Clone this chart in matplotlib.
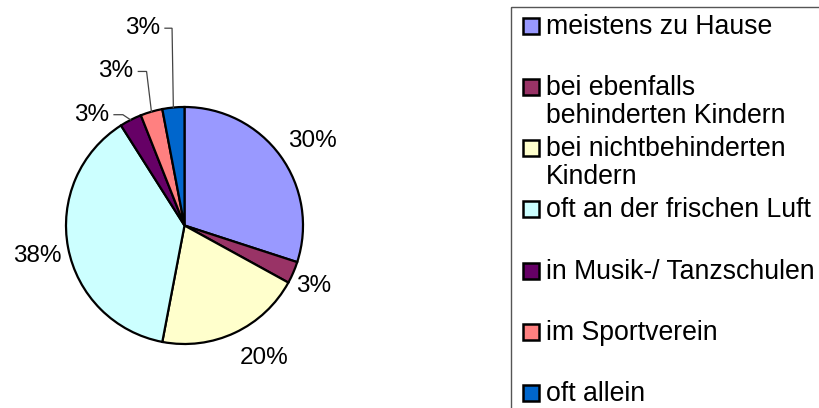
import numpy as np
import matplotlib.pyplot as plt
from matplotlib.patches import Rectangle

plt.rcParams['font.family'] = ['Liberation Sans', 'DejaVu Sans']

# data
categories = ['meistens zu Hause', 'bei ebenfalls\nbehinderten Kindern', 'bei nichtbehinderten\nKindern',
              'oft an der frischen Luft', 'in Musik-/ Tanzschulen', 'im Sportverein', 'oft allein']
values = [30, 3, 20, 38, 3, 3, 3]
colors = ['#9999FF', '#993366', '#FFFFCC', '#CCFFFF', '#660066', '#FF8080', '#0066CC']
pct_labels = [f'{v}%' for v in values]

W, H = 820, 408
fig = plt.figure(figsize=(W / 100, H / 100), dpi=100)

# pie axes (pixel geometry of the reference)
cx, cy, r = 184.5, 225.5, 118.5
ax = fig.add_axes([(cx - r) / W, (H - cy - r) / H, 2 * r / W, 2 * r / H])
wedges, _ = ax.pie(values, colors=colors, startangle=90, counterclock=False,
                   wedgeprops=dict(edgecolor='black', linewidth=1.6))
ax.set_xlim(-1, 1)
ax.set_ylim(-1, 1)
ax.set_aspect('equal')
ax.axis('off')

# label positions in pie units (x, y); small slices get leader lines
label_pos = [(1.08, 0.71), (1.09, -0.51), (0.67, -1.12), (-1.245, -0.26),
             (-0.785, 0.935), (-0.58, 1.30), (-0.355, 1.665)]
elbow_dx = [None, None, None, None, 0.075, 0.07, 0.06]

for i, (w, lab) in enumerate(zip(wedges, pct_labels)):
    lx, ly = label_pos[i]
    ax.text(lx, ly, lab, ha='center', va='center', fontsize=17.5, clip_on=False)
    if elbow_dx[i] is not None:
        ang = np.deg2rad((w.theta1 + w.theta2) / 2)
        px, py = np.cos(ang), np.sin(ang)
        x0 = lx + 0.19
        ax.plot([x0, x0 + elbow_dx[i], px], [ly, ly, py], color='#444444', lw=0.9,
                clip_on=False, solid_joinstyle='miter')

# legend drawn in pixel coordinates (box runs past the right/bottom edges)
lax = fig.add_axes([0, 0, 1, 1])
lax.set_xlim(0, W)
lax.set_ylim(H, 0)
lax.axis('off')
lax.add_patch(Rectangle((511, 7), 400, 500, facecolor='none', edgecolor='#555555', lw=1.0))
row0, row_step, line_h = 25, 61.3, 28
for i, (cat, col) in enumerate(zip(categories, colors)):
    y = row0 + i * row_step
    lax.add_patch(Rectangle((523, y - 7.5), 16, 16, facecolor=col, edgecolor='black', lw=1.8))
    for k, line in enumerate(cat.split('\n')):
        lax.text(546, y + 8.5 + k * line_h, line, fontsize=19.2, va='baseline', ha='left')

fig.savefig('out.png', dpi=100)
